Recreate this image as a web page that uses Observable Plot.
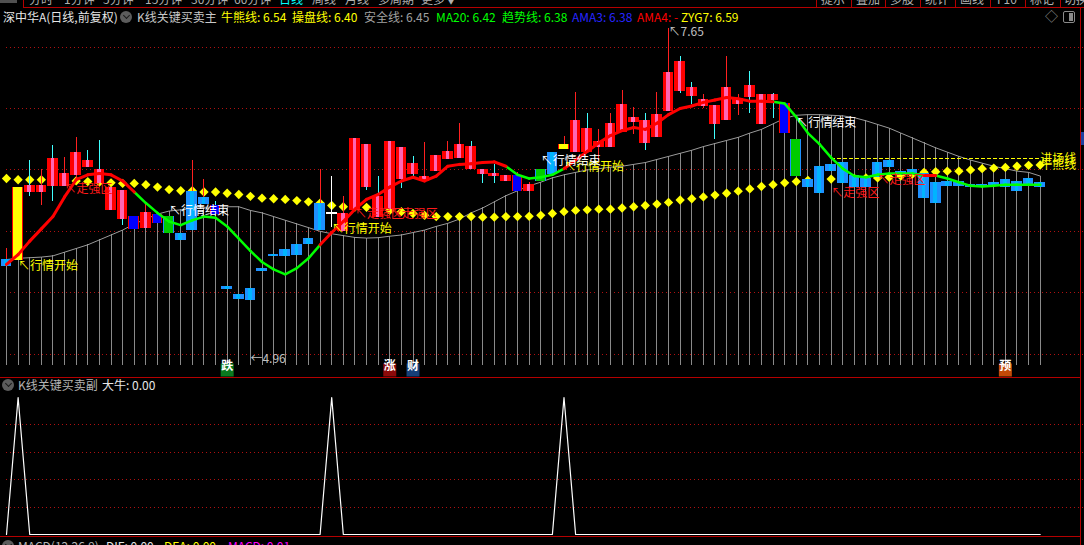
<!DOCTYPE html>
<html><head><meta charset="utf-8">
<script src="https://cdn.jsdelivr.net/npm/d3@7"></script>
<script src="https://cdn.jsdelivr.net/npm/@observablehq/plot@0.6"></script>
<style>
html,body{margin:0;padding:0;background:#000;}
#root{position:relative;width:1084px;height:545px;overflow:hidden;background:#000;font-family:"Noto Sans CJK SC","Noto Sans",sans-serif;font-size:12px;}
.t{position:absolute;white-space:nowrap;line-height:14px;font-size:12px;}
.ic{position:absolute;width:12px;height:12px;border-radius:50%;background:#5c5c5c;}
.ic::after{content:"";position:absolute;left:3.5px;top:2px;width:4px;height:4px;border-right:1.5px solid #1a1a1a;border-bottom:1.5px solid #1a1a1a;transform:rotate(45deg);}
svg line, svg rect{shape-rendering:crispEdges;}
#root svg{position:absolute;left:0;}
</style></head><body><div id="root"></div>
<script>
// ---------------- data ----------------
const candleType = [
 "bear","star","bull","bull","bull","bull","bull","bull","bull","bull",
 "bull","weak","bull","weak","turn","bear","bear","bear","weak","bear",
 "bear","bear","bear","bear","bear","bear","bear","bear","doji","bull",
 "bull","bull","bull","bull","bull","bull","bull","bull","bull","bull",
 "bull","bull","bull","bull","weak","bull","turn","bear","star","bull",
 "bull","bull","bull","bull","bull","bull","bull","bull","bull","bull",
 "bull","bull","bull","bull","bull","bull","bull","weak","turn","bear",
 "bear","bear","bear","bear","bear","bear","bear","bear","bear","bear",
 "bear","bear","bear","bear","bear","bear","bear","bear","bear","bear"];
const wickType = [
 "up","up","down","up","down","up","up","down","down","up",
 "down","up","up","up","down","down","up","up","down","down",
 "down","down","down","down","down","down","down","up","flat","up",
 "up","down","down","up","down","down","up","up","up","up",
 "down","down","down","up","up","up","down","down","up","up",
 "down","up","up","up","up","down","up","up","down","down",
 "up","down","up","up","down","up","down","up","down","down",
 "down","down","down","down","down","down","down","down","down","down",
 "down","down","down","down","down","down","down","down","down","down"];
const bodyLow = [
 5.72,5.77,6.32,6.32,6.365,6.365,6.46,6.52,6.39,6.17,
 6.10,6.02,6.03,6.07,5.99,5.93,6.01,6.22,6.14,5.53,
 5.45,5.44,5.675,5.80,5.80,5.805,5.90,6.01,6.145,6.00,
 6.17,6.36,6.115,6.18,6.43,6.47,6.41,6.49,6.59,6.60,
 6.51,6.47,6.45,6.41,6.33,6.33,6.41,6.47,6.67,6.645,
 6.645,6.685,6.69,6.81,6.89,6.72,6.77,6.98,7.14,7.105,
 7.02,6.87,6.91,7.04,7.09,6.875,7.07,6.80,6.45,6.36,
 6.31,6.495,6.39,6.36,6.36,6.445,6.52,6.455,6.455,6.27,
 6.23,6.37,6.37,6.36,6.36,6.37,6.36,6.33,6.38,6.36];
const bodyHigh = [
 5.77,6.35,6.365,6.37,6.59,6.47,6.64,6.57,6.50,6.35,
 6.33,6.12,6.15,6.13,6.12,5.98,6.32,6.27,6.21,5.55,
 5.48,5.53,5.69,5.81,5.845,5.885,5.94,6.22,6.145,6.14,
 6.75,6.70,6.28,6.73,6.675,6.55,6.44,6.61,6.645,6.70,
 6.69,6.50,6.47,6.45,6.45,6.38,6.50,6.64,6.70,6.90,
 6.83,6.73,6.87,7.03,6.92,6.90,6.95,7.29,7.38,7.165,
 7.07,7.02,7.17,7.08,7.18,7.11,7.11,7.04,6.74,6.42,
 6.52,6.54,6.56,6.45,6.43,6.56,6.57,6.48,6.50,6.47,
 6.39,6.40,6.40,6.375,6.38,6.39,6.42,6.40,6.43,6.39];
const wickLow = [
 5.72,5.77,6.28,6.21,6.24,6.365,6.41,6.52,6.39,6.17,
 6.05,6.02,6.03,6.07,5.99,5.93,6.01,6.22,6.14,5.53,
 5.45,5.44,5.675,5.80,5.80,5.805,5.90,6.01,6.03,6.00,
 6.17,6.33,6.115,6.18,6.35,6.43,6.41,6.49,6.59,6.60,
 6.51,6.39,6.39,6.41,6.33,6.33,6.41,6.47,6.67,6.645,
 6.645,6.58,6.69,6.81,6.79,6.66,6.77,6.98,7.125,7.03,
 7.00,6.745,6.91,6.94,6.96,6.875,6.92,6.80,6.45,6.36,
 6.31,6.495,6.39,6.36,6.36,6.445,6.52,6.455,6.455,6.27,
 6.23,6.37,6.37,6.36,6.36,6.37,6.36,6.33,6.38,6.36];
const wickHigh = [
 5.86,6.35,6.58,6.50,6.70,6.60,6.76,6.66,6.74,6.35,
 6.33,6.12,6.23,6.13,6.12,5.98,6.58,6.42,6.24,5.55,
 5.48,5.53,5.69,5.81,5.845,5.885,5.94,6.50,6.45,6.28,
 6.75,6.70,6.45,6.73,6.675,6.61,6.72,6.61,6.73,6.875,
 6.73,6.50,6.54,6.45,6.48,6.40,6.50,6.64,6.77,7.13,
 6.96,6.83,6.96,7.15,7.01,6.96,7.13,7.65,7.42,7.21,
 7.11,7.02,7.42,7.11,7.30,7.11,7.125,7.04,6.74,6.42,
 6.52,6.54,6.56,6.45,6.43,6.56,6.57,6.48,6.50,6.47,
 6.39,6.40,6.40,6.375,6.38,6.39,6.42,6.40,6.43,6.39];
// 安全线
const safetyLine = [
 5.77,5.78,5.785,5.79,5.80,5.83,5.86,5.89,5.93,5.97,
 6.01,6.06,6.10,6.14,6.165,6.175,6.185,6.195,6.20,6.20,
 6.20,6.17,6.15,6.12,6.09,6.06,6.03,6.00,5.98,5.965,
 5.95,5.945,5.948,5.96,5.97,5.99,6.01,6.04,6.065,6.10,
 6.15,6.19,6.24,6.29,6.33,6.37,6.40,6.435,6.46,6.48,
 6.50,6.51,6.522,6.53,6.545,6.56,6.585,6.61,6.635,6.66,
 6.69,6.715,6.74,6.765,6.80,6.83,6.875,6.92,6.945,6.95,
 6.95,6.945,6.94,6.925,6.90,6.87,6.84,6.80,6.76,6.72,
 6.68,6.645,6.61,6.58,6.555,6.53,6.51,6.49,6.48,6.45];
// 牛熊线
const bullBearLine = [
 6.43,6.42,6.42,6.42,6.415,6.41,6.41,6.405,6.40,6.395,
 6.39,6.39,6.38,6.36,6.34,6.33,6.33,6.32,6.32,6.31,
 6.30,6.285,6.27,6.265,6.26,6.25,6.24,6.23,6.21,6.20,
 6.197,6.195,6.18,6.17,6.16,6.145,6.13,6.12,6.12,6.12,
 6.12,6.115,6.115,6.12,6.12,6.122,6.13,6.145,6.16,6.17,
 6.175,6.18,6.18,6.19,6.20,6.21,6.222,6.235,6.255,6.265,
 6.28,6.295,6.31,6.327,6.345,6.365,6.38,6.395,6.405,6.415,
 6.42,6.425,6.428,6.43,6.435,6.435,6.44,6.45,6.465,6.48,
 6.485,6.49,6.49,6.50,6.51,6.515,6.52,6.53,6.537,6.54];
// 趋势线
const trendLine = [
 5.73,5.81,5.92,6.02,6.12,6.28,6.42,6.46,6.47,6.46,
 6.41,6.32,6.23,6.15,6.08,6.05,6.09,6.12,6.11,6.04,
 5.94,5.84,5.75,5.69,5.65,5.70,5.78,5.89,5.99,6.08,
 6.18,6.26,6.30,6.36,6.41,6.44,6.41,6.45,6.53,6.545,
 6.55,6.56,6.565,6.53,6.46,6.43,6.44,6.46,6.51,6.58,
 6.65,6.72,6.78,6.82,6.845,6.83,6.88,6.95,7.00,7.02,
 7.05,7.07,7.09,7.08,7.06,7.06,7.055,7.04,6.93,6.80,
 6.71,6.60,6.51,6.45,6.44,6.46,6.47,6.47,6.47,6.455,
 6.455,6.43,6.40,6.37,6.365,6.37,6.38,6.38,6.38,6.38];
// 1 = bullish segment (ending at this bar), 0 = bearish
const trendUp = [
 1,1,1,1,1,1,1,1,1,1,
 1,1,0,0,0,0,0,0,0,0,
 0,0,0,0,0,0,0,0,1,1,
 1,1,1,1,1,1,1,1,1,1,
 1,1,1,1,0,0,0,0,0,1,
 1,1,1,1,1,1,1,1,1,1,
 1,1,1,1,1,1,1,0,0,0,
 0,0,0,0,0,0,0,0,0,0,
 1,0,0,0,0,0,0,0,0,0];
// 大牛 (sub pane)
const daNiu = [
 0,1,0,0,0,0,0,0,0,0,
 0,0,0,0,0,0,0,0,0,0,
 0,0,0,0,0,0,0,0,1,0,
 0,0,0,0,0,0,0,0,0,0,
 0,0,0,0,0,0,0,0,1,0,
 0,0,0,0,0,0,0,0,0,0,
 0,0,0,0,0,0,0,0,0,0,
 0,0,0,0,0,0,0,0,0,0,
 0,0,0,0,0,0,0,0,0,0];
const zyg7 = 6.59, zygStartBar = 71;
const gridPrices = [5.0, 5.5, 6.0, 6.5, 7.0, 7.5];
const subGrid = [0.2, 0.4, 0.6, 0.8];
const signalBar = [1, 5, 14, 28, 30, 33, 46, 48, 68, 71, 75];
const signalPrice = [5.72, 6.34, 6.16, 6.02, 6.14, 6.14, 6.57, 6.52, 6.88, 6.31, 6.42];
const signalText = ["↖行情开始","↖走强区","↖行情结束","↖行情开始","↖走强区","↖走强区","↖行情结束","↖行情开始","↖行情结束","↖走强区","↖走强区"];
const signalKind = ["start","strong","end","start","strong","strong","end","start","end","strong","strong"];
const highBar = 57, highPrice = 7.65, highText = "↖7.65";
const lowBar = 21, lowPrice = 4.96, lowText = "←4.96";
const markerBar = [19, 33, 35, 86];
const markerText = ["跌", "涨", "财", "预"];
const markerKind = ["down", "up", "fin", "fore"];
const endLabels = ["进场线", "牛熊线"];

// ---------------- build ----------------
const N = candleType.length;
const idx = d3.range(N);
const bars = idx.map(i => ({i, lo: bodyLow[i], hi: bodyHigh[i], wl: wickLow[i], wh: wickHigh[i],
  type: candleType[i], wick: wickType[i], safe: safetyLine[i], bb: bullBearLine[i], tr: trendLine[i], niu: daNiu[i]}));
const segs = idx.slice(1).map(i => ({x1: i - 1, x2: i, y1: trendLine[i - 1], y2: trendLine[i], up: trendUp[i]}));
const signals = signalBar.map((b, k) => ({b, p: signalPrice[k], t: signalText[k], k: signalKind[k]}));
const markers = markerBar.map((b, k) => ({b, t: markerText[k], k: markerKind[k]}));
const ends = [{b: N - 1, p: zyg7, t: endLabels[0]}, {b: N - 1, p: bullBearLine[N - 1], t: endLabels[1]}];

const yMin = 4.9072, yMax = 7.6515;
const FONT = "Noto Sans CJK SC";
const xScale = {type: "linear", domain: [0, N - 1], range: [6, 1039.7], axis: null};

const bodyStyle = {
  bull: ["#ff0000", "#ff66b3", 0.15],
  bear: ["#1e90ff", "#00b4ff", 0.16],
  weak: ["#ff0000", "#0000ff", 0.37],
  turn: ["#1e90ff", "#00cc00", 0.37],
  star: ["#ff0000", "#ffff00", 0.38]
};
const bodyMarks = [];
for (const [type, [outer, inner, w]] of Object.entries(bodyStyle)) {
  bodyMarks.push(Plot.rect(bars, {filter: d => d.type === type, x1: d => d.i - 0.46, x2: d => d.i + 0.46,
    y1: "lo", y2: "hi", fill: outer, insetTop: -0.5, insetBottom: -0.5}));
  bodyMarks.push(Plot.rect(bars, {filter: d => d.type === type, x1: d => d.i - w, x2: d => d.i + w,
    y1: "lo", y2: "hi", fill: inner, insetTop: -0.5, insetBottom: -0.5}));
}
const wickColor = {up: "#ff2020", down: "#40ffff", flat: "#ffffff"};
const labelColor = {start: "#ffff00", strong: "#ff1a1a", end: "#ffffff"};
const markerColor = {down: "#0b7a1f", up: "#8c0a0a", fin: "#163f78", fore: "#c44a08"};

const main = Plot.plot({
  width: 1084, height: 377, margin: 0,
  style: {background: "transparent", overflow: "visible"},
  x: xScale,
  y: {type: "linear", domain: [yMin, yMax], range: [365, 28], axis: null},
  marks: [
    Plot.ruleY(gridPrices, {stroke: "#b01010", strokeDasharray: "1,3", x1: 0, x2: N + 2.9}),
    Plot.ruleX(bars, {x: "i", y1: "safe", y2: yMin, stroke: "#8a8a8a"}),
    Plot.line(bars, {x: "i", y: "safe", stroke: "#9a9a9a", strokeWidth: 1}),
    Plot.dot(bars, {x: "i", y: "bb", symbol: "diamond2", r: 4.2, fill: "#ffff00", stroke: "none"}),
    Plot.ruleY([zyg7], {y: d => d, x1: zygStartBar, x2: N - 1, stroke: "#ffff00", strokeDasharray: "4,2"}),
    ...Object.entries(wickColor).map(([k, c]) => Plot.ruleX(bars, {filter: d => d.wick === k, x: "i", y1: "wl", y2: "wh", stroke: c})),
    ...bodyMarks,
    Plot.ruleY(bars, {filter: d => d.type === "doji", y: "lo", x1: d => d.i - 0.46, x2: d => d.i + 0.46, stroke: "#ffffff", strokeWidth: 2}),
    Plot.link(segs, {filter: d => d.up === 0, x1: "x1", y1: "y1", x2: "x2", y2: "y2", stroke: "#00ff00", strokeWidth: 2.5, strokeLinecap: "round"}),
    Plot.link(segs, {filter: d => d.up === 1, x1: "x1", y1: "y1", x2: "x2", y2: "y2", stroke: "#ff0000", strokeWidth: 3, strokeLinecap: "round"}),
    ...Object.entries(labelColor).map(([k, c]) => Plot.text(signals, {filter: d => d.k === k, x: "b", y: "p", text: "t",
      fill: c, textAnchor: "start", fontSize: 12, fontFamily: FONT})),
    Plot.text(ends, {x: "b", y: "p", text: "t", fill: "#ffff00", textAnchor: "start", fontSize: 12, fontFamily: FONT}),
    Plot.text([highText], {x: highBar, y: highPrice, text: d => d, fill: "#c0c0c0", textAnchor: "start", lineAnchor: "top",
      dy: -1, fontSize: 12, fontFamily: FONT}),
    Plot.text([lowText], {x: lowBar, y: lowPrice, text: d => d, fill: "#c0c0c0", textAnchor: "start", lineAnchor: "middle",
      fontSize: 12, fontFamily: FONT}),
    ...Object.entries(markerColor).map(([k, c]) => Plot.dot(markers, {filter: d => d.k === k, x: "b", frameAnchor: "bottom",
      dy: -7.5, symbol: "square", r: 7.33, fill: c})),
    Plot.text(markers, {x: "b", frameAnchor: "bottom", dy: -7.5, text: "t", fill: "#ffffff", fontSize: 12, fontWeight: "bold", fontFamily: FONT})
  ]
});

const sub = Plot.plot({
  width: 1084, height: 168, margin: 0,
  style: {background: "transparent", overflow: "visible"},
  x: xScale,
  y: {type: "linear", domain: [0, 1], range: [157, 20], axis: null},
  marks: [
    Plot.ruleY(subGrid, {stroke: "#b01010", strokeDasharray: "1,3", x1: 0, x2: N + 2.9}),
    Plot.line(bars, {x: "i", y: "niu", stroke: "#ffffff", strokeWidth: 1.2})
  ]
});

const root = document.getElementById("root");
main.style.top = "0px";
sub.style.top = "377px";
root.appendChild(main);
root.appendChild(sub);

// ---------------- chrome / headers ----------------
function txt(x, y, s, color, extra) {
  const e = document.createElement("div");
  e.className = "t"; e.style.left = x + "px"; e.style.top = y + "px"; e.style.color = color;
  e.textContent = s; if (extra) Object.assign(e.style, extra); root.appendChild(e); return e;
}
function box(x, y, w, h, bg, extra) {
  const e = document.createElement("div");
  e.style.position = "absolute"; e.style.left = x + "px"; e.style.top = y + "px";
  e.style.width = w + "px"; e.style.height = h + "px"; e.style.background = bg;
  if (extra) Object.assign(e.style, extra); root.appendChild(e); return e;
}
function icon(x, y) { const e = document.createElement("div"); e.className = "ic"; e.style.left = x + "px"; e.style.top = y + "px"; root.appendChild(e); }

// top tab row (cut off)
const tabs = [["分时",29],["1分钟",64],["5分钟",103],["15分钟",145],["30分钟",191],["60分钟",234],["日线",279],["周线",312],["月线",345],["多周期",378],["更多▼",421]];
tabs.forEach(([s, x]) => txt(x, -8, s, s === "日线" ? "#00ffff" : "#b0b0b0"));
const btns = [["提示",821],["叠加",856],["多股",890],["统计",925],["画线",960],["F10",997],["标记",1030],["切换",1064]];
btns.forEach(([s, x]) => txt(x, -8, s, "#b0b0b0"));
box(0, 0, 17, 3, "#505050");
box(23, 0, 1, 7, "#b40000");
[816, 851, 885, 920, 955, 990, 1025, 1060].forEach(x => box(x, 0, 1, 7, "#b40000"));
box(23, 7, 1061, 1, "#b40000");
// pane borders
box(0, 377, 1080, 1, "#b40000");
box(0, 536, 1080, 1, "#b40000");
box(1080, 7, 1, 538, "#b40000");
box(1081, 132, 3, 13, "#2040a0");

// main header
txt(3, 10, "深中华A(日线,前复权)", "#e6e6e6");
icon(120, 11);
txt(137, 10, "K线关键买卖主", "#c8c8c8");
txt(221, 10, "牛熊线: 6.54", "#ffff00");
txt(292, 10, "操盘线: 6.40", "#ffff00");
txt(364, 10, "安全线: 6.45", "#a0a0a0");
txt(436, 10, "MA20: 6.42", "#00ff00");
txt(502, 10, "趋势线: 6.38", "#00ff00");
txt(572, 10, "AMA3: 6.38", "#2626ff");
txt(637, 10, "AMA4: -", "#ff0000");
txt(681, 10, "ZYG7: 6.59", "#ffff00");
txt(1045, 9, "◇", "#8a8a8a", {fontSize: "13px"});
box(1063, 11, 10, 10, "transparent", {border: "1px solid #8a8a8a", borderRadius: "2px"});
box(1069, 13, 4, 8, "#8a8a8a");

// sub pane header
icon(2, 379);
txt(18, 378, "K线关键买卖副", "#b4b4b4");
txt(102, 378, "大牛: 0.00", "#e6e6e6");

// MACD header (cut off)
icon(2, 540);
txt(18, 539, "MACD(12,26,9)", "#b4b4b4");
txt(106, 539, "DIF: 0.00", "#e6e6e6");
txt(164, 539, "DEA: 0.00", "#ffff00");
txt(228, 539, "MACD: 0.01", "#ff00ff");
</script></body></html>
